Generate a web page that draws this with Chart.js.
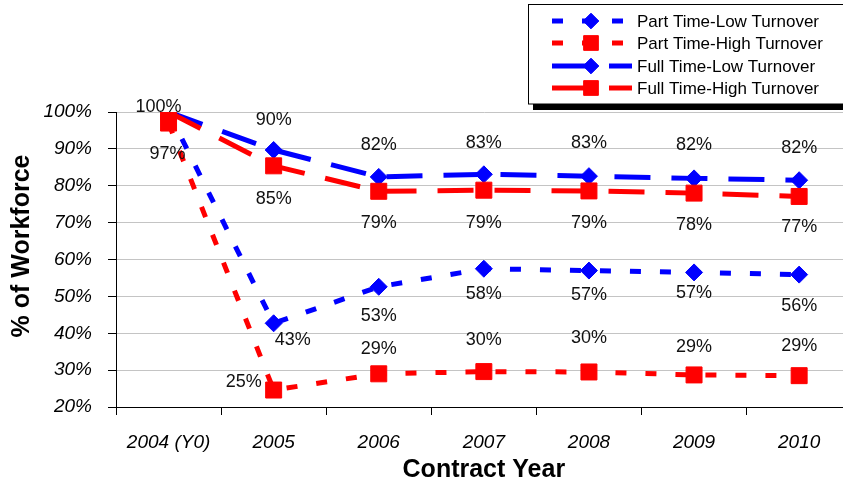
<!DOCTYPE html>
<html><head><meta charset="utf-8">
<script src="https://cdn.jsdelivr.net/npm/chart.js@4.4.1/dist/chart.umd.min.js"></script>
<style>
html,body{margin:0;padding:0;overflow:hidden;background:#fff;width:843px;height:485px}
#wrap{position:absolute;left:0;top:0;width:864px;height:485px}
</style></head><body>
<div id="wrap"><canvas id="c" width="864" height="485"></canvas></div>
<script>
// ---- data ----
const categories = ['2004 (Y0)', '2005', '2006', '2007', '2008', '2009', '2010'];
const seriesNames = ['Part Time-Low Turnover', 'Part Time-High Turnover', 'Full Time-Low Turnover', 'Full Time-High Turnover'];
const partTimeLow  = [100, 42.7, 52.6, 57.5, 57.0, 56.5, 55.9];
const partTimeHigh = [97, 24.6, 29.0, 29.6, 29.5, 28.7, 28.5];
const fullTimeLow  = [100, 89.7, 82.4, 83.1, 82.6, 82.0, 81.5];
const fullTimeHigh = [100, 85.4, 78.5, 78.8, 78.6, 78.0, 77.1];
const yTickValues = [20, 30, 40, 50, 60, 70, 80, 90, 100];
const yTickLabels = ['20%', '30%', '40%', '50%', '60%', '70%', '80%', '90%', '100%'];

// ---- label placement (offsets from the point, px); null = no label ----
const labelPlacement = [
  [null, [19, 17], [0, 29], [0, 25], [0, 24], [0, 21], [0, 31]],
  [[-1, 31], [-30, -8], [0, -25], [0, -32], [0, -34], [0, -28], [0, -30]],
  [[-10, -5], [0, -30], [0, -32], [0, -31], [0, -33], [0, -33], [0, -32]],
  [null, [0, 33], [0, 32], [0, 33], [0, 32], [0, 32], [0, 31]]
];

const BLUE = '#0000ff', RED = '#ff0000';
const FONT = "'Liberation Sans', Arial, sans-serif";

const dataLabels = {
  id: 'dataLabels',
  afterDatasetsDraw(chart) {
    const ctx = chart.ctx;
    ctx.save();
    ctx.font = '18px ' + FONT;
    ctx.fillStyle = '#111';
    ctx.textAlign = 'center';
    ctx.textBaseline = 'middle';
    chart.data.datasets.forEach((ds, i) => {
      const meta = chart.getDatasetMeta(i);
      meta.data.forEach((pt, j) => {
        const p = labelPlacement[i][j];
        if (!p) return;
        ctx.fillText(Math.round(ds.data[j]) + '%', pt.x + p[0], pt.y + p[1]);
      });
    });
    ctx.restore();
  }
};

const extras = {
  id: 'extras',
  afterDraw(chart) {
    const ctx = chart.ctx;
    // y axis title
    ctx.save();
    ctx.translate(22, 246);
    ctx.rotate(-Math.PI / 2);
    ctx.font = 'bold 25px ' + FONT;
    ctx.fillStyle = '#000';
    ctx.textAlign = 'center';
    ctx.textBaseline = 'middle';
    ctx.fillText('% of Workforce', 0, 0);
    ctx.restore();

    // legend box
    ctx.save();
    ctx.fillStyle = '#000';
    ctx.fillRect(533, 104, 340, 6);
    ctx.fillStyle = '#fff';
    ctx.fillRect(528, 4, 340, 100);
    ctx.strokeStyle = '#000';
    ctx.lineWidth = 1;
    ctx.strokeRect(528.5, 4.5, 340, 99.5);
    const rows = [21, 43, 66, 88];
    chart.data.datasets.forEach((ds, i) => {
      const y = rows[i];
      ctx.save();
      ctx.strokeStyle = ds.borderColor;
      ctx.lineWidth = ds.borderWidth;
      ctx.setLineDash(ds.borderDash);
      ctx.beginPath();
      ctx.moveTo(552, y);
      ctx.lineTo(i < 2 ? 626 : 632, y);
      ctx.stroke();
      ctx.restore();
      ctx.save();
      ctx.fillStyle = ds.backgroundColor;
      ctx.strokeStyle = ds.borderColor;
      ctx.lineWidth = 1;
      ctx.setLineDash([]);
      Chart.helpers.drawPoint(ctx, {
        pointStyle: ds.pointStyle, radius: ds.pointRadius * 0.92, borderWidth: 1, rotation: 0
      }, 591, y);
      ctx.restore();
      ctx.fillStyle = '#000';
      ctx.font = '17px ' + FONT;
      ctx.textAlign = 'left';
      ctx.textBaseline = 'middle';
      ctx.fillText(ds.label, 637, y + 1);
    });
    ctx.restore();
  }
};

function makeSet(name, data, color, dash, style, radius, order) {
  return {
    label: name, data, borderColor: color, backgroundColor: color,
    borderWidth: 5, borderDash: dash, borderCapStyle: 'butt',
    pointStyle: style, pointRadius: radius, pointHoverRadius: radius,
    pointBackgroundColor: color, pointBorderColor: color, pointBorderWidth: 1,
    tension: 0, fill: false, order
  };
}

new Chart(document.getElementById('c'), {
  type: 'line',
  data: {
    labels: categories,
    datasets: [
      makeSet(seriesNames[0], partTimeLow, BLUE, [11, 19], 'rectRot', 8.5, 3),
      makeSet(seriesNames[1], partTimeHigh, RED, [11, 19], 'rect', 11.3, 1),
      makeSet(seriesNames[2], fullTimeLow, BLUE, [36, 21], 'rectRot', 8.5, 2),
      makeSet(seriesNames[3], fullTimeHigh, RED, [36, 21], 'rect', 11.3, 0)
    ]
  },
  options: {
    responsive: false,
    animation: false,
    devicePixelRatio: 1,
    layout: { padding: { top: 112, left: 0, right: 0, bottom: 0 } },
    plugins: { legend: { display: false }, tooltip: { enabled: false } },
    events: [],
    scales: {
      x: {
        type: 'category',
        offset: true,
        afterFit(s) { s.height = 78; },
        grid: { display: true, drawOnChartArea: false, offset: true, color: '#000', tickColor: '#000', tickLength: 8 },
        border: { color: '#000', width: 1 },
        ticks: { color: '#000', padding: 16, maxRotation: 0, font: { family: FONT, size: 19, style: 'italic' } },
        title: { display: true, text: 'Contract Year', color: '#000', padding: { top: 0, bottom: 0 }, font: { family: FONT, size: 25, weight: 'bold' } }
      },
      y: {
        min: 20, max: 100,
        afterFit(s) { s.width = 116; },
        afterBuildTicks(s) { s.ticks = yTickValues.map(v => ({ value: v })); },
        grid: { color: '#c4c4c4', tickColor: '#000', tickLength: 8, lineWidth: 1 },
        border: { color: '#000', width: 1 },
        ticks: {
          color: '#000', padding: 16,
          font: { family: FONT, size: 19, style: 'italic' },
          callback: (v) => yTickLabels[yTickValues.indexOf(v)]
        }
      }
    }
  },
  plugins: [dataLabels, extras]
});
</script>
</body></html>
